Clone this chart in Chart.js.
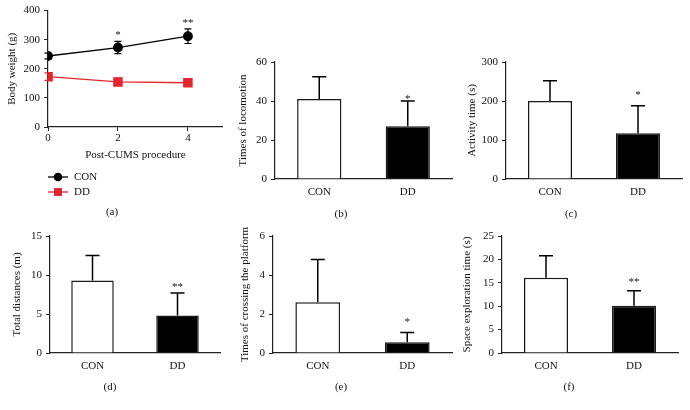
<!DOCTYPE html>
<html>
<head>
<meta charset="utf-8">
<script src="https://cdn.jsdelivr.net/npm/chart.js@4.4.1/dist/chart.umd.min.js"></script>
<style>
  body { margin: 0; background: #fff; }
  #wrap { position: relative; width: 690px; height: 410px; background: #fff; }
  canvas { position: absolute; }
</style>
</head>
<body>
<div id="wrap">
  <canvas id="chartA"></canvas>
  <canvas id="chartB"></canvas>
  <canvas id="chartC"></canvas>
  <canvas id="chartD"></canvas>
  <canvas id="chartE"></canvas>
  <canvas id="chartF"></canvas>
</div>
<script>
// ---- data ----
const weeks = [0, 2, 4];
const conWeight = [244, 273, 312];
const conWeightSd = [10, 21, 25];
const ddWeight = [173, 155, 152];
const ddWeightSd = [13, 4, 12];
const weightStars = ['', '*', '**'];

const groups = ['CON', 'DD'];
const locomotion = [41, 27];
const locomotionSd = [11.5, 13];
const activity = [200, 117];
const activitySd = [52, 71];
const distance = [9.3, 4.8];
const distanceSd = [3.2, 2.9];
const crossing = [2.6, 0.55];
const crossingSd = [2.2, 0.5];
const exploration = [16.1, 10.1];
const explorationSd = [4.7, 3.2];

const FONT = 'Liberation Serif';
const INK = '#111';
const RED = '#e3262b';

Chart.defaults.font.family = FONT;
Chart.defaults.font.size = 11;
Chart.defaults.color = INK;

// error bars + significance stars
const errorBars = {
    id: 'errorBars',
    beforeDatasetsDraw(chart, args, opts) {
        const ctx = chart.ctx;
        const yScale = chart.scales.y;
        chart.data.datasets.forEach((ds, i) => {
            if (!ds.errors) return;
            const meta = chart.getDatasetMeta(i);
            ctx.save();
            ctx.strokeStyle = ds.errorColor || '#000';
            ctx.lineWidth = opts.width;
            meta.data.forEach((el, j) => {
                const raw = ds.data[j];
                const v = typeof raw === 'object' ? raw.y : raw;
                const e = ds.errors[j];
                const x = el.x;
                const top = yScale.getPixelForValue(v + e);
                const bottom = yScale.getPixelForValue(opts.both ? v - e : v);
                ctx.beginPath();
                ctx.moveTo(x, bottom);
                ctx.lineTo(x, top);
                ctx.moveTo(x - opts.cap, top);
                ctx.lineTo(x + opts.cap, top);
                if (opts.both) {
                    ctx.moveTo(x - opts.cap, bottom);
                    ctx.lineTo(x + opts.cap, bottom);
                }
                ctx.stroke();
                if (ds.stars && ds.stars[j]) {
                    ctx.fillStyle = INK;
                    ctx.font = '11px "' + FONT + '"';
                    ctx.textAlign = 'center';
                    ctx.textBaseline = 'middle';
                    ctx.fillText(ds.stars[j], x, top - opts.starGap);
                }
            });
            ctx.restore();
        });
    }
};

// little key under panel (a): line + marker + label, stacked
const seriesKey = {
    id: 'seriesKey',
    afterDraw(chart, args, opts) {
        if (!opts.show) return;
        const { ctx, chartArea } = chart;
        chart.data.datasets.forEach((ds, i) => {
            const x = chartArea.left;
            const y = chartArea.bottom + opts.offset + i * opts.rowGap;
            ctx.save();
            ctx.strokeStyle = ds.borderColor;
            ctx.fillStyle = ds.borderColor;
            ctx.lineWidth = 1.3;
            ctx.beginPath();
            ctx.moveTo(x, y);
            ctx.lineTo(x + 20, y);
            ctx.stroke();
            if (ds.pointStyle === 'rect') {
                ctx.fillRect(x + 10 - 4, y - 4, 8, 8);
            } else {
                ctx.beginPath();
                ctx.arc(x + 10, y, 4.3, 0, Math.PI * 2);
                ctx.fill();
            }
            ctx.fillStyle = INK;
            ctx.font = '11px "' + FONT + '"';
            ctx.textAlign = 'left';
            ctx.textBaseline = 'middle';
            ctx.fillText(ds.label, x + 26, y);
            ctx.restore();
        });
    }
};

// size and place a canvas so its plot area lands on `plot`
function placeCanvas(id, plot, m) {
    const c = document.getElementById(id);
    c.width = plot.r - plot.l + m.yw + m.right;
    c.height = m.top + (plot.b - plot.t) + m.xh + 11 + m.labelGap;
    c.style.left = (plot.l - m.yw) + 'px';
    c.style.top = (plot.t - m.top) + 'px';
    return c;
}

function yAxis(max, step, title, titlePad, yw) {
    return {
        min: 0,
        max: max,
        ticks: { stepSize: step, padding: 4, color: INK },
        grid: { drawOnChartArea: false, drawTicks: true, tickLength: 4, color: '#222', lineWidth: 1 },
        border: { display: true, color: '#222', width: 1.2 },
        title: { display: true, text: title, color: INK, font: { size: 11 }, padding: { top: titlePad, bottom: 0 } },
        afterFit: (scale) => { scale.width = yw; }
    };
}

function panelTitle(text, gap) {
    return {
        display: true,
        text: text,
        position: 'bottom',
        color: INK,
        font: { size: 11, weight: 'normal', lineHeight: 1 },
        padding: { top: gap, bottom: 0 }
    };
}

// ---- (a) body weight ----
const mA = { yw: 48, top: 10, right: 6, xh: 37, labelGap: 43 };
const canvasA = placeCanvas('chartA', { l: 48, t: 10, r: 224, b: 127 }, mA);

new Chart(canvasA, {
    type: 'line',
    data: {
        datasets: [
            {
                label: 'CON',
                data: weeks.map((w, i) => ({ x: w, y: conWeight[i] })),
                errors: conWeightSd,
                stars: weightStars,
                errorColor: '#000',
                borderColor: '#000',
                backgroundColor: '#000',
                borderWidth: 1.3,
                pointStyle: 'circle',
                pointRadius: 4.3,
                tension: 0
            },
            {
                label: 'DD',
                data: weeks.map((w, i) => ({ x: w, y: ddWeight[i] })),
                errors: ddWeightSd,
                errorColor: RED,
                borderColor: RED,
                backgroundColor: RED,
                borderWidth: 1.3,
                pointStyle: 'rect',
                pointRadius: 5.8,
                tension: 0
            }
        ]
    },
    options: {
        responsive: false,
        animation: false,
        layout: { padding: { top: mA.top, right: mA.right, left: 0, bottom: 0 } },
        plugins: {
            legend: { display: false },
            tooltip: { enabled: false },
            title: panelTitle('(a)', mA.labelGap),
            errorBars: { width: 1.2, cap: 3.5, both: true, starGap: 6 },
            seriesKey: { show: true, offset: 50, rowGap: 15 }
        },
        scales: {
            x: {
                type: 'linear',
                min: 0,
                max: 5,
                ticks: { stepSize: 2, padding: 1, color: INK },
                afterBuildTicks: (scale) => { scale.ticks = scale.ticks.filter(t => t.value % 2 === 0 && t.value <= 4); },
                grid: { drawOnChartArea: false, drawTicks: true, tickLength: 4, color: '#222' },
                border: { display: true, color: '#222', width: 1.2 },
                title: { display: true, text: 'Post-CUMS procedure', color: INK, font: { size: 11 }, padding: { top: 0, bottom: 2 } },
                afterFit: (scale) => { scale.height = mA.xh; }
            },
            y: yAxis(400, 100, 'Body weight (g)', 5.4, mA.yw)
        }
    },
    plugins: [errorBars, seriesKey]
});

// ---- bar panels (b)-(f) ----
function barPanel(id, plot, m, values, sd, stars, max, step, title, label) {
    const canvas = placeCanvas(id, plot, m);
    return new Chart(canvas, {
        type: 'bar',
        data: {
            labels: groups,
            datasets: [{
                data: values,
                errors: sd,
                stars: stars,
                backgroundColor: ['#fff', '#000'],
                borderColor: '#1a1a1a',
                borderWidth: 1.5,
                barPercentage: 0.5,
                categoryPercentage: 1
            }]
        },
        options: {
            responsive: false,
            animation: false,
            layout: { padding: { top: m.top, right: m.right, left: 0, bottom: 0 } },
            plugins: {
                legend: { display: false },
                tooltip: { enabled: false },
                title: panelTitle(label, m.labelGap),
                errorBars: { width: 1.5, cap: 7, both: false, starGap: m.starGap }
            },
            scales: {
                x: {
                    ticks: { padding: 6.5, color: INK },
                    grid: { display: false, drawTicks: false },
                    border: { display: true, color: '#222', width: 1.2 },
                    afterFit: (scale) => { scale.height = m.xh; }
                },
                y: yAxis(max, step, title, m.titlePad, m.yw)
            }
        },
        plugins: [errorBars]
    });
}

barPanel('chartB', { l: 275, t: 62, r: 452, b: 179 },
    { yw: 45, top: 12, right: 6, xh: 26, labelGap: 4, titlePad: 6.4, starGap: 2 },
    locomotion, locomotionSd, ['', '*'], 60, 20, 'Times of locomotion', '(b)');

barPanel('chartC', { l: 506, t: 62, r: 682, b: 179 },
    { yw: 46, top: 12, right: 6, xh: 26, labelGap: 4, titlePad: 5.4, starGap: 11 },
    activity, activitySd, ['', '*'], 300, 100, 'Activity time (s)', '(c)');

barPanel('chartD', { l: 50, t: 236, r: 220, b: 353 },
    { yw: 50, top: 12, right: 6, xh: 26, labelGap: 3, titlePad: 10.4, starGap: 5.5 },
    distance, distanceSd, ['', '**'], 15, 5, 'Total distances (m)', '(d)');

barPanel('chartE', { l: 273, t: 236, r: 452, b: 353 },
    { yw: 43, top: 14, right: 6, xh: 26, labelGap: 3, titlePad: 8.4, starGap: 10.5 },
    crossing, crossingSd, ['', '*'], 6, 2, 'Times of crossing the platform', '(e)');

barPanel('chartF', { l: 502, t: 236, r: 678, b: 353 },
    { yw: 42, top: 12, right: 6, xh: 26, labelGap: 3, titlePad: 0.4, starGap: 9 },
    exploration, explorationSd, ['', '**'], 25, 5, 'Space exploration time (s)', '(f)');
</script>
</body>
</html>
